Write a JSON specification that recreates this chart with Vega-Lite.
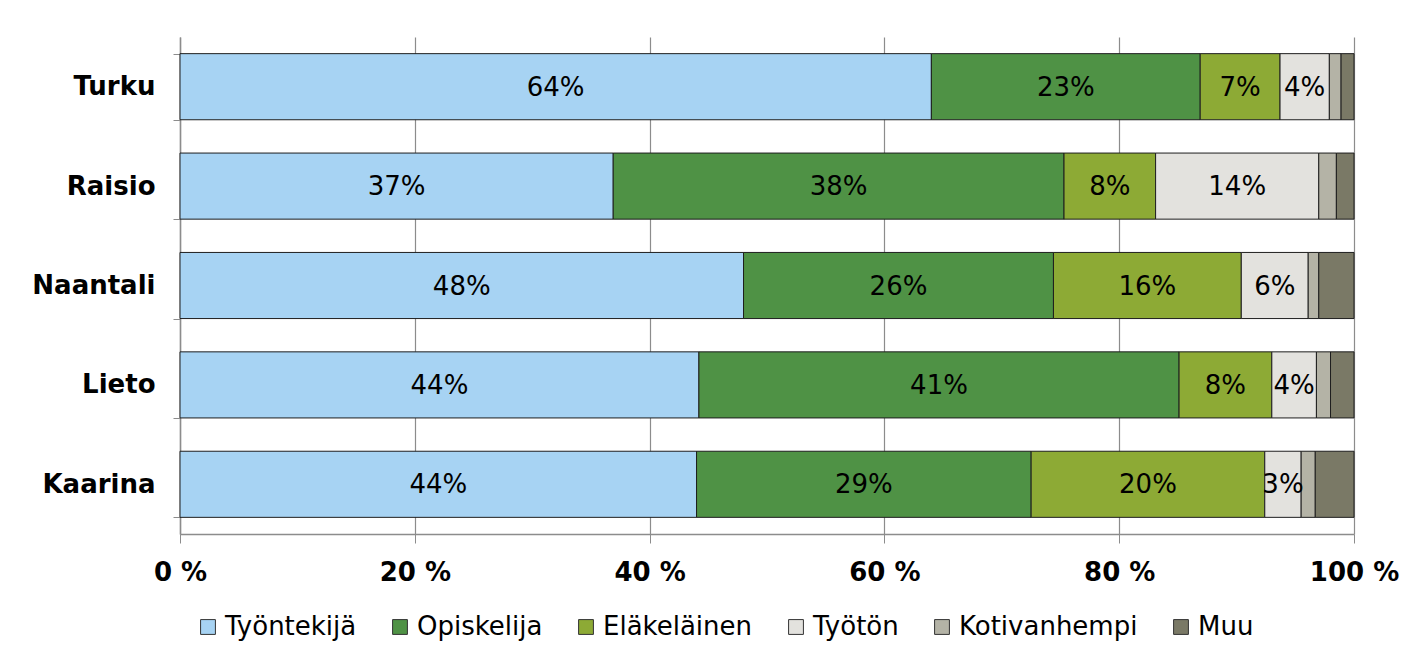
{
  "$schema": "https://vega.github.io/schema/vega-lite/v6.json",
  "autosize": "none",
  "width": 1174,
  "height": 497,
  "padding": {"left": 180, "top": 37, "right": 73, "bottom": 125},
  "background": "white",
  "config": {
    "font": "DejaVu Sans",
    "view": {"stroke": null}
  },
  "data": {
    "values": [
      {"city": "Turku", "category": "Työntekijä", "value": 64.0},
      {"city": "Turku", "category": "Opiskelija", "value": 22.9},
      {"city": "Turku", "category": "Eläkeläinen", "value": 6.8},
      {"city": "Turku", "category": "Työtön", "value": 4.2},
      {"city": "Turku", "category": "Kotivanhempi", "value": 1.0},
      {"city": "Turku", "category": "Muu", "value": 1.1},
      {"city": "Raisio", "category": "Työntekijä", "value": 36.9},
      {"city": "Raisio", "category": "Opiskelija", "value": 38.4},
      {"city": "Raisio", "category": "Eläkeläinen", "value": 7.8},
      {"city": "Raisio", "category": "Työtön", "value": 13.9},
      {"city": "Raisio", "category": "Kotivanhempi", "value": 1.5},
      {"city": "Raisio", "category": "Muu", "value": 1.5},
      {"city": "Naantali", "category": "Työntekijä", "value": 48.0},
      {"city": "Naantali", "category": "Opiskelija", "value": 26.4},
      {"city": "Naantali", "category": "Eläkeläinen", "value": 16.0},
      {"city": "Naantali", "category": "Työtön", "value": 5.7},
      {"city": "Naantali", "category": "Kotivanhempi", "value": 0.9},
      {"city": "Naantali", "category": "Muu", "value": 3.0},
      {"city": "Lieto", "category": "Työntekijä", "value": 44.2},
      {"city": "Lieto", "category": "Opiskelija", "value": 40.9},
      {"city": "Lieto", "category": "Eläkeläinen", "value": 7.9},
      {"city": "Lieto", "category": "Työtön", "value": 3.8},
      {"city": "Lieto", "category": "Kotivanhempi", "value": 1.2},
      {"city": "Lieto", "category": "Muu", "value": 2.0},
      {"city": "Kaarina", "category": "Työntekijä", "value": 44.0},
      {"city": "Kaarina", "category": "Opiskelija", "value": 28.5},
      {"city": "Kaarina", "category": "Eläkeläinen", "value": 19.9},
      {"city": "Kaarina", "category": "Työtön", "value": 3.1},
      {"city": "Kaarina", "category": "Kotivanhempi", "value": 1.2},
      {"city": "Kaarina", "category": "Muu", "value": 3.3}
    ]
  },
  "transform": [
    {"calculate": "indexof(['Työntekijä','Opiskelija','Eläkeläinen','Työtön','Kotivanhempi','Muu'], datum.category)", "as": "ord"},
    {"calculate": "format(datum.value, '.0f') + '%'", "as": "label"}
  ],
  "encoding": {
    "y": {
      "field": "city",
      "type": "nominal",
      "sort": null,
      "scale": {"paddingInner": 0.335, "paddingOuter": 0.1675},
      "axis": {
        "title": null,
        "tickBand": "extent",
        "labelFont": "DejaVu Sans",
        "labelFontSize": 26,
        "labelFontWeight": "bold",
        "labelColor": "#000000",
        "labelPadding": 18,
        "tickSize": 7,
        "tickColor": "#8c8c8c",
        "domainColor": "#8c8c8c",
        "domainWidth": 1.5,
        "grid": false
      }
    },
    "order": {"field": "ord", "type": "quantitative"}
  },
  "layer": [
    {
      "mark": {"type": "bar", "stroke": "#1e1e1e", "strokeWidth": 1},
      "encoding": {
        "x": {
          "field": "value",
          "type": "quantitative",
          "stack": "zero",
          "scale": {"domain": [0, 100], "nice": false},
          "axis": {
            "title": null,
            "values": [0, 20, 40, 60, 80, 100],
            "labelExpr": "datum.value + ' %'",
            "labelFlush": false,
            "labelFont": "DejaVu Sans",
            "labelFontSize": 26,
            "labelFontWeight": "bold",
            "labelColor": "#000000",
            "labelPadding": 16,
            "tickSize": 9,
            "tickColor": "#8c8c8c",
            "domainColor": "#8c8c8c",
            "domainWidth": 1.5,
            "grid": true,
            "gridColor": "#8c8c8c",
            "gridWidth": 1.2
          }
        },
        "color": {
          "field": "category",
          "type": "nominal",
          "scale": {
            "domain": ["Työntekijä", "Opiskelija", "Eläkeläinen", "Työtön", "Kotivanhempi", "Muu"],
            "range": ["#A7D3F3", "#4F9245", "#8DAA35", "#E3E2DE", "#B4B3A6", "#7A7966"]
          },
          "legend": {
            "title": null,
            "orient": "none",
            "direction": "horizontal",
            "legendX": 15,
            "legendY": 577,
            "labelFont": "DejaVu Sans",
            "labelFontSize": 26,
            "labelColor": "#000000",
            "labelOffset": 4,
            "labelLimit": 400,
            "symbolType": "square",
            "symbolSize": 220,
            "symbolStrokeColor": "#333333",
            "symbolStrokeWidth": 1,
            "columnPadding": 30
          }
        }
      }
    },
    {
      "transform": [{"filter": "datum.ord < 4"}],
      "mark": {"type": "text", "fontSize": 26, "color": "#000000", "align": "center", "baseline": "middle", "dy": 1},
      "encoding": {
        "x": {"field": "value", "type": "quantitative", "stack": "zero", "bandPosition": 0.5},
        "text": {"field": "label", "type": "nominal"}
      }
    }
  ]
}
